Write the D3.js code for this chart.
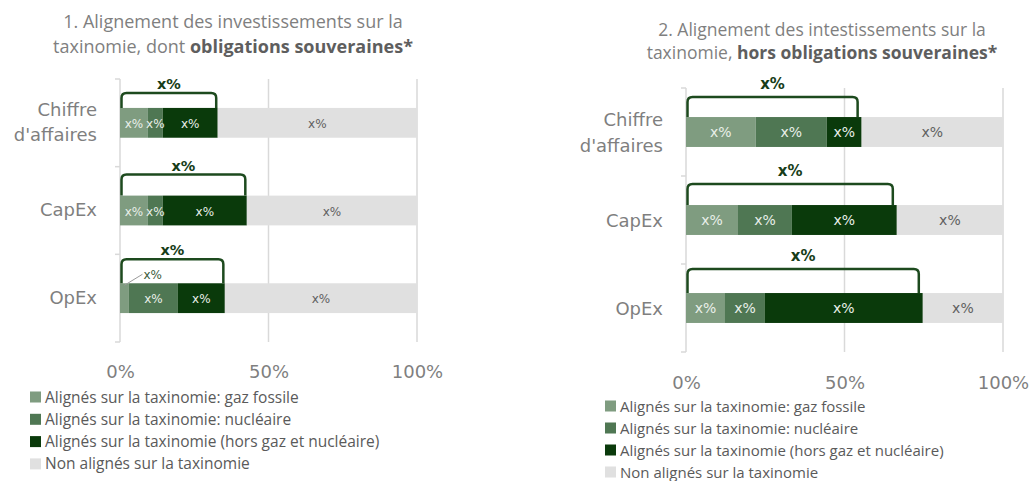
<!DOCTYPE html>
<html>
<head>
<meta charset="utf-8">
<script src="https://cdn.jsdelivr.net/npm/d3@7/dist/d3.min.js"></script>
<style>
  html, body { margin: 0; padding: 0; background: #ffffff; }
  svg { display: block; }
</style>
</head>
<body>
<svg id="chart" width="1033" height="481"></svg>
<script>
// ---------- DATA ----------
const categories = ["Chiffre d'affaires", "CapEx", "OpEx"];
const seriesNames = [
  "Alignés sur la taxinomie: gaz fossile",
  "Alignés sur la taxinomie: nucléaire",
  "Alignés sur la taxinomie (hors gaz et nucléaire)",
  "Non alignés sur la taxinomie"
];
// Panel 1 : dont obligations souveraines (% of total)
const gazFossile1   = [9.4, 9.4, 3.0];
const nucleaire1    = [5.0, 5.0, 16.5];
const horsGazNucl1  = [18.5, 28.3, 15.8];
const nonAlignes1   = [67.1, 57.3, 64.7];
// Panel 2 : hors obligations souveraines (% of total)
const gazFossile2   = [22.0, 16.4, 12.3];
const nucleaire2    = [22.4, 17.0, 12.6];
const horsGazNucl2  = [11.0, 33.1, 49.8];
const nonAlignes2   = [44.6, 33.5, 25.3];
// Text
const tickValues = [0, 50, 100];
const segmentLabel = "x%";
const bracketLabel = "x%";
const title1 = ["1. Alignement des investissements sur la", ["taxinomie, dont ", "obligations souveraines*"]];
const title2 = ["2. Alignement des intestissements sur la", ["taxinomie, ", "hors obligations souveraines*"]];

// ---------- STYLE ----------
const colors = ["#7f9c80", "#4f7753", "#0a3a0b", "#e0e0e0"];
const labelColors = ["#e9efe9", "#e9efe9", "#e9efe9", "#5f5f5f"];
const bracketColor = "#1d4a1e";
const gridColor = "#d9d9d9";
const textGrey = "#7f7f7f";
const wideFont = "'DejaVu Sans', Verdana, sans-serif";
const bodyFont = "'Open Sans', 'Noto Sans', sans-serif";

const svg = d3.select("#chart");

function drawPanel(cfg) {
  const g = svg.append("g");
  const rows = categories.map((c, i) => {
    const o = { cat: c };
    cfg.series.forEach((arr, k) => o["s" + k] = arr[i]);
    return o;
  });
  const keys = ["s0", "s1", "s2", "s3"];
  const stacked = d3.stack().keys(keys)(rows);

  const x = d3.scaleLinear().domain([0, 100]).range([cfg.x0, cfg.x1]);
  const y = d3.scaleBand().domain(categories).range([cfg.yTop, cfg.yBottom])
    .paddingInner(0.66).paddingOuter(0.33);

  // title
  const t = g.append("text").attr("text-anchor", "middle")
    .attr("font-family", bodyFont).attr("font-size", cfg.titleSize).attr("fill", textGrey);
  t.append("tspan").attr("x", cfg.titleX).attr("y", cfg.titleY[0]).text(cfg.title[0]);
  const t2 = t.append("tspan").attr("x", cfg.titleX).attr("y", cfg.titleY[1]);
  t2.append("tspan").text(cfg.title[1][0]);
  t2.append("tspan").attr("font-weight", "bold").attr("fill", "#5e5e5e").text(cfg.title[1][1]);

  // gridlines (50%, 100%)
  g.append("g").selectAll("line").data(tickValues.filter(d => d > 0)).join("line")
    .attr("x1", d => x(d)).attr("x2", d => x(d))
    .attr("y1", cfg.yTop).attr("y2", cfg.yBottom)
    .attr("stroke", gridColor).attr("stroke-width", 1.5);

  // category axis (left) with small ticks at band boundaries
  const step = y.step();
  const bounds = d3.range(categories.length + 1).map(i => cfg.yTop + i * step);
  g.append("line").attr("x1", cfg.x0).attr("x2", cfg.x0)
    .attr("y1", cfg.yTop).attr("y2", cfg.yBottom)
    .attr("stroke", gridColor).attr("stroke-width", 1.5);
  g.append("g").selectAll("line").data(bounds).join("line")
    .attr("x1", cfg.x0 - 5).attr("x2", cfg.x0)
    .attr("y1", d => d).attr("y2", d => d)
    .attr("stroke", gridColor).attr("stroke-width", 1.5);

  // x tick labels
  const xAxis = d3.axisBottom(x).tickValues(tickValues).tickFormat(d => d + "%").tickSize(0);
  const ax = g.append("g").attr("transform", `translate(0,${cfg.tickY})`).call(xAxis);
  ax.select(".domain").remove();
  ax.selectAll("text").attr("font-family", wideFont).attr("font-size", 18)
    .attr("fill", textGrey).attr("dy", 0);

  // category labels
  categories.forEach(c => {
    const cy = y(c) + y.bandwidth() / 2;
    const lines = c === "Chiffre d'affaires" ? ["Chiffre", "d'affaires"] : [c];
    const txt = g.append("text").attr("text-anchor", "end")
      .attr("font-family", wideFont).attr("font-size", 18).attr("fill", textGrey);
    lines.forEach((ln, i) => {
      const off = (i - (lines.length - 1) / 2) * cfg.catLineH + 6.5 + cfg.catShift;
      txt.append("tspan").attr("x", cfg.catX).attr("y", cy + off).text(ln);
    });
  });

  // bars
  const layers = g.append("g").selectAll("g").data(stacked).join("g")
    .attr("fill", (d, i) => colors[i]);
  layers.selectAll("rect").data(d => d).join("rect")
    .attr("x", d => x(d[0]))
    .attr("width", d => x(d[1]) - x(d[0]))
    .attr("y", d => y(d.data.cat))
    .attr("height", y.bandwidth());

  // segment labels
  stacked.forEach((layer, li) => {
    layer.forEach(d => {
      const w = x(d[1]) - x(d[0]);
      const cy = y(d.data.cat) + y.bandwidth() / 2;
      if (w >= 12) {
        g.append("text").attr("x", (x(d[0]) + x(d[1])) / 2).attr("y", cy + 5)
          .attr("text-anchor", "middle").attr("font-family", wideFont)
          .attr("font-size", cfg.segSize).attr("fill", labelColors[li]).text(segmentLabel);
      } else {
        const sx = (x(d[0]) + x(d[1])) / 2, sy = y(d.data.cat) + 2;
        g.append("line").attr("x1", sx).attr("y1", sy).attr("x2", sx + 18).attr("y2", sy - 11)
          .attr("stroke", "#9a9a9a").attr("stroke-width", 1);
        g.append("text").attr("x", sx + 19).attr("y", sy - 6)
          .attr("font-family", wideFont).attr("font-size", cfg.segSize)
          .attr("fill", "#3c5c3c").text(segmentLabel);
      }
    });
  });

  // brackets showing total aligned share
  rows.forEach((r, i) => {
    const total = r.s0 + r.s1 + r.s2;
    const bx0 = x(0) + 1.5, bx1 = x(total) - cfg.bracketInset;
    const by1 = y(r.cat);
    const by0 = by1 - cfg.bracketRise[i];
    const rr = 5;
    const p = d3.path();
    p.moveTo(bx0, by1);
    p.lineTo(bx0, by0 + rr);
    p.quadraticCurveTo(bx0, by0, bx0 + rr, by0);
    p.lineTo(bx1 - rr, by0);
    p.quadraticCurveTo(bx1, by0, bx1, by0 + rr);
    p.lineTo(bx1, by1);
    g.append("path").attr("d", p.toString()).attr("fill", "none")
      .attr("stroke", bracketColor).attr("stroke-width", 2.5);
    g.append("text").attr("x", (bx0 + bx1) / 2).attr("y", by0 - cfg.bracketLabelGap)
      .attr("text-anchor", "middle").attr("font-family", wideFont).attr("font-weight", "bold")
      .attr("font-size", cfg.bracketSize).attr("fill", "#173d18").text(bracketLabel);
  });

  // legend
  const lg = g.append("g");
  seriesNames.forEach((s, i) => {
    const ly = cfg.legendY + i * cfg.legendStep;
    lg.append("rect").attr("x", cfg.legendX).attr("y", ly - 5.5).attr("width", 11).attr("height", 11)
      .attr("fill", colors[i]);
    lg.append("text").attr("x", cfg.legendX + 15).attr("y", ly + 5.5)
      .attr("font-family", bodyFont).attr("font-size", cfg.legendSize).attr("fill", "#5a5a5a").text(s);
  });
}

drawPanel({
  series: [gazFossile1, nucleaire1, horsGazNucl1, nonAlignes1],
  x0: 120, x1: 417, yTop: 79, yBottom: 342,
  title: title1, titleX: 233, titleY: [28, 53], titleSize: 18,
  tickY: 375, catX: 97, catLineH: 25, catShift: -1,
  segSize: 12, bracketSize: 14.5, bracketInset: 1.5,
  bracketRise: [15, 21, 24], bracketLabelGap: 4,
  legendX: 30, legendY: 397, legendStep: 22.3, legendSize: 15.5
});

drawPanel({
  series: [gazFossile2, nucleaire2, horsGazNucl2, nonAlignes2],
  x0: 686, x1: 1003, yTop: 88, yBottom: 352,
  title: title2, titleX: 822, titleY: [36, 59], titleSize: 17.5,
  tickY: 386, catX: 663, catLineH: 26, catShift: 0,
  segSize: 14, bracketSize: 15, bracketInset: 4,
  bracketRise: [20, 21, 24], bracketLabelGap: 8,
  legendX: 605, legendY: 406, legendStep: 22, legendSize: 15
});
</script>
</body>
</html>
